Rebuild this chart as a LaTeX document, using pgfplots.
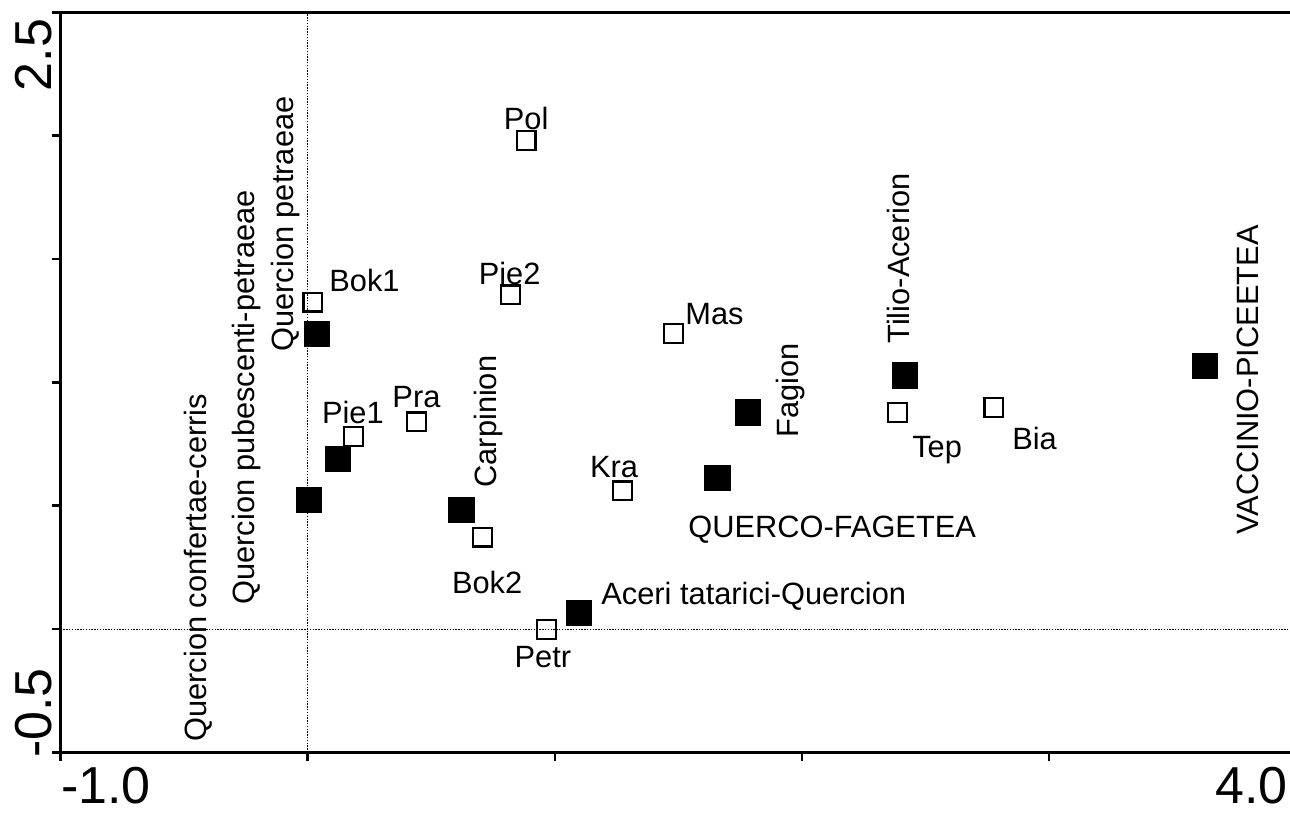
\documentclass[border=0pt]{standalone}
\usepackage{fontspec}
\setmainfont{Liberation Sans}
\usepackage{pgfplots}
\pgfplotsset{compat=1.18}
\begin{document}
\begin{tikzpicture}[
  lab/.style={font=\fontsize{15.4}{18}\selectfont, inner sep=0pt},
  rlab/.style={lab, rotate=90, anchor=base west}]
\begin{axis}[
  name=ax,
  scale only axis,
  width=617.75pt, height=369.9pt,
  xmin=-1, xmax=4, ymin=-0.5, ymax=2.5,
  axis line style={line width=1.5pt},
  xtick={-1}, xticklabels={-1.0},
  extra x ticks={4}, extra x tick labels={4.0},
  extra x tick style={xticklabel style={anchor=north east, xshift=-4pt}},
  minor xtick={0,1,2,3},
  ytick={2.5}, yticklabels={2.5},
  extra y ticks={-0.5}, extra y tick labels={-0.5},
  extra y tick style={yticklabel style={anchor=base west}},
  minor ytick={0,0.5,1,1.5,2},
  xtick pos=left, ytick pos=left,
  tick align=outside,
  major tick length=4.5pt, minor tick length=4.5pt,
  tick style={line width=1.3pt, black},
  xticklabel style={anchor=north west, inner sep=0pt, yshift=-2.8pt, font=\fontsize{26}{30}\selectfont},
  yticklabel style={rotate=90, anchor=base east, inner sep=0pt, xshift=-3pt, font=\fontsize{26}{30}\selectfont},
]
\coordinate (SW) at (rel axis cs:0,0);
\coordinate (NE) at (rel axis cs:1,1);
% dotted zero lines
\addplot[black, line width=0.5pt, dash pattern=on 0.7pt off 0.7pt] coordinates {(0,-0.5) (0,2.5)};
\addplot[black, line width=0.5pt, dash pattern=on 0.7pt off 0.7pt] coordinates {(-1,0) (4,0)};
% samples (open squares)
\addplot[only marks, mark=square, mark size=4.65pt, mark options={line width=1.2pt, black, fill=white}] coordinates {
 (0.021,1.326) (0.885,1.981) (0.821,1.356) (1.480,1.198) (0.185,0.781)
 (0.440,0.841) (1.274,0.560) (0.707,0.373) (0.966,-0.002) (2.387,0.878) (2.777,0.898)};
% syntaxa (filled squares)
\addplot[only marks, mark=square*, mark size=6.3pt, mark options={black, line width=0.4pt}] coordinates {
 (0.036,1.196) (0.123,0.689) (0.005,0.523) (0.622,0.483) (1.098,0.065)
 (1.658,0.614) (1.782,0.878) (2.418,1.028) (3.632,1.067)};
% sample labels
\node[lab, anchor=base west] at (axis cs:0.086,1.367) {Bok1};
\node[lab, anchor=base] at (axis cs:0.884,2.024) {Pol};
\node[lab, anchor=base] at (axis cs:0.817,1.399) {Pie2};
\node[lab, anchor=base west] at (axis cs:1.527,1.233) {Mas};
\node[lab, anchor=base] at (axis cs:0.183,0.835) {Pie1};
\node[lab, anchor=base] at (axis cs:0.440,0.900) {Pra};
\node[lab, anchor=base] at (axis cs:1.240,0.616) {Kra};
\node[lab, anchor=base] at (axis cs:0.726,0.146) {Bok2};
\node[lab, anchor=base] at (axis cs:0.952,-0.158) {Petr};
\node[lab, anchor=base west] at (axis cs:2.445,0.697) {Tep};
\node[lab, anchor=base west] at (axis cs:2.850,0.726) {Bia};
% syntaxa labels
\node[lab, anchor=base west] at (axis cs:1.539,0.373) {QUERCO-FAGETEA};
\node[lab, anchor=base west] at (axis cs:1.187,0.101) {Aceri tatarici-Quercion};
\node[rlab] at (axis cs:-0.408,-0.458) {Quercion confertae-cerris};
\node[rlab] at (axis cs:-0.217,0.097) {Quercion pubescenti-petraeae};
\node[rlab] at (axis cs:-0.056,1.123) {Quercion petraeae};
\node[rlab] at (axis cs:0.766,0.572) {Carpinion};
\node[rlab] at (axis cs:1.988,0.775) {Fagion};
\node[rlab] at (axis cs:2.437,1.156) {Tilio-Acerion};
\node[rlab] at (axis cs:3.846,0.381) {VACCINIO-PICEETEA};
\end{axis}
\pgfresetboundingbox
\path[use as bounding box] ([shift={(-30.3pt,-29.85pt)}]SW) rectangle ([shift={(-3.05pt,6.25pt)}]NE);
\end{tikzpicture}
\end{document}
